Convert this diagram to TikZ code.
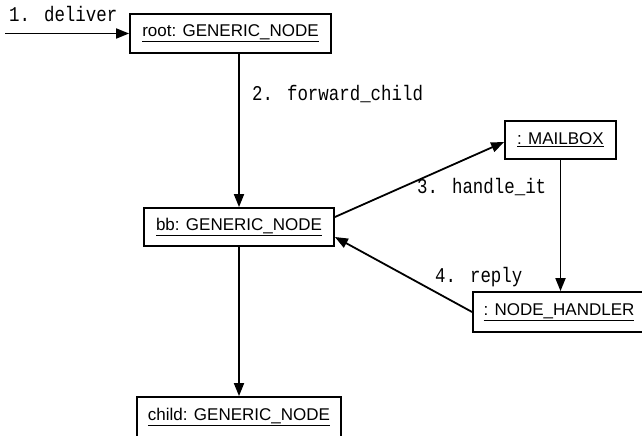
\documentclass[tikz,border=0pt]{standalone}
\usepackage{fontspec}
\setmainfont{Liberation Sans}
\newfontfamily\msgfont[FakeStretch=0.83]{Liberation Mono}
\usetikzlibrary{arrows.meta}
\tikzset{
  obj/.style={draw, line width=1.8pt, fill=white, inner sep=0pt, font=\fontsize{17}{20}\selectfont},
  msg/.style={anchor=base west, inner sep=0pt, font=\msgfont\fontsize{21}{24}\selectfont},
  link/.style={line width=1.8pt, -{Triangle[length=13pt,width=10pt]}}
}
\begin{document}
\begin{tikzpicture}[x=1pt,y=-1pt]
\useasboundingbox (0,0) rectangle (642,436);
\clip (0,0) rectangle (642,436);
\fill[white] (0,0) rectangle (642,436);
\node[obj, minimum width=201pt, minimum height=39pt] (root) at (230.5,33.5) {\underline{root: GENERIC\_NODE}};
\node[obj, minimum width=190pt, minimum height=38pt] (bb) at (239,227) {\underline{bb: GENERIC\_NODE}};
\node[obj, minimum width=111pt, minimum height=38pt] (mbox) at (560.5,140) {\underline{: MAILBOX}};
\node[obj, minimum width=172pt, minimum height=40pt] (hand) at (559,312) {\underline{: NODE\_HANDLER}};
\node[obj, minimum width=204pt, minimum height=40pt] (child) at (239,417) {\underline{child: GENERIC\_NODE}};
\coordinate (in) at (5,33.5);
\draw[link] (in) -- (root.west);
\draw[link] (root.south -| bb.north) -- (bb.north);
\draw[link] ([yshift=10pt]bb.east) -- ([yshift=-2pt]mbox.west);
\draw[link] (mbox.south) -- (mbox.south |- hand.north);
\draw[link] (hand.west) -- ([yshift=-10pt]bb.east);
\draw[link] (bb.south) -- (child.north);
\node[msg] (l1) at (9,22) {1. deliver};
\node[msg] (l2) at (252,100) {2. forward\_child};
\node[msg] (l3) at (417,193) {3. handle\_it};
\node[msg] (l4) at (435,282) {4. reply};
\end{tikzpicture}
\end{document}
